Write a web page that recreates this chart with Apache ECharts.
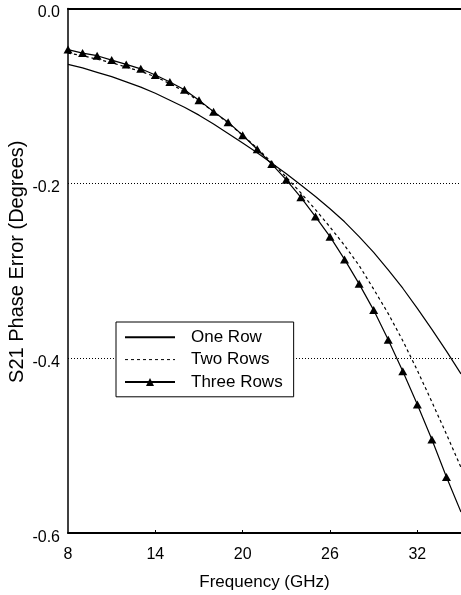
<!DOCTYPE html>
<html>
<head>
<meta charset="utf-8">
<script src="https://cdn.jsdelivr.net/npm/echarts@6/dist/echarts.min.js"></script>
<style>
  html, body { margin: 0; padding: 0; background: #fff; }
  #chart { width: 461px; height: 595px; }
</style>
</head>
<body>
<div id="chart"></div>
<script>
// Frequency sweep (GHz)
const frequencies = [8, 9, 10, 11, 12, 13, 14, 15, 16, 17, 18, 19, 20, 21,
                     22, 23, 24, 25, 26, 27, 28, 29, 30, 31, 32, 33, 34, 35];

// S21 phase error (degrees) for each configuration
const oneRow = [-0.064, -0.068, -0.073, -0.078, -0.084, -0.090, -0.097, -0.105,
                -0.113, -0.122, -0.132, -0.143, -0.154, -0.165, -0.177, -0.189,
                -0.202, -0.215, -0.229, -0.244, -0.261, -0.279, -0.299, -0.320,
                -0.343, -0.367, -0.392, -0.418];
const twoRows = [-0.051, -0.054, -0.058, -0.062, -0.067, -0.072, -0.078, -0.086,
                 -0.095, -0.106, -0.118, -0.131, -0.145, -0.160, -0.176, -0.193,
                 -0.211, -0.230, -0.250, -0.271, -0.294, -0.321, -0.349, -0.380,
                 -0.414, -0.450, -0.487, -0.525];
const threeRows = [-0.047, -0.051, -0.054, -0.059, -0.064, -0.069, -0.076, -0.084,
                   -0.093, -0.105, -0.118, -0.130, -0.145, -0.161, -0.178, -0.196,
                   -0.216, -0.238, -0.261, -0.287, -0.315, -0.345, -0.379, -0.415,
                   -0.453, -0.493, -0.536, -0.576];

// Axis ticks
const xTickValues = [8, 14, 20, 26, 32];
const yTickValues = [0, -0.2, -0.4, -0.6];

const seriesNames = ['One Row', 'Two Rows', 'Three Rows'];

const FONT = '"Liberation Sans", Arial, Helvetica, sans-serif';

function pairs(values) {
  return frequencies.map((f, i) => [f, values[i]]);
}

// Markers on every sample except the last one, where the trace runs off the frame
function markedPairs(values) {
  return frequencies.map((f, i) =>
    i === frequencies.length - 1 ? { value: [f, values[i]], symbol: 'none' } : [f, values[i]]);
}

const chart = echarts.init(document.getElementById('chart'), null, { renderer: 'canvas' });

chart.setOption({
  animation: false,
  backgroundColor: '#fff',
  textStyle: { fontFamily: FONT, color: '#000' },
  grid: { left: 68, right: 0, top: 8.5, bottom: 62, containLabel: false, outerBoundsMode: 'none' },
  legend: {
    orient: 'vertical',
    left: 116,
    top: 322,
    padding: [6.7, 11, 6.3, 8],
    itemWidth: 50,
    itemHeight: 10,
    itemGap: 5.4,
    backgroundColor: '#fff',
    borderColor: '#000',
    borderWidth: 1,
    borderRadius: 0,
    textStyle: { fontFamily: FONT, fontSize: 17, color: '#000', padding: [0, 0, 0, 11] },
    data: [
      { name: seriesNames[0], lineStyle: { width: 2, color: '#000', type: 'solid' }, itemStyle: { opacity: 0 } },
      { name: seriesNames[1], lineStyle: { width: 1, color: '#000', type: [3, 3] }, itemStyle: { opacity: 0 } },
      { name: seriesNames[2], lineStyle: { width: 2, color: '#000', type: 'solid' }, itemStyle: { color: '#000' } }
    ]
  },
  xAxis: [
    {
      type: 'value',
      min: 8,
      max: 35,
      interval: 6,
      name: 'Frequency (GHz)',
      nameLocation: 'middle',
      nameGap: 41,
      nameTextStyle: { fontFamily: FONT, fontSize: 17, color: '#000' },
      axisLine: { show: true, onZero: false, lineStyle: { color: '#000', width: 2 } },
      axisTick: { show: true, inside: true, length: 3, customValues: xTickValues.slice(1),
                  lineStyle: { color: '#000', width: 1 } },
      axisLabel: { show: true, customValues: xTickValues, margin: 14,
                   fontFamily: FONT, fontSize: 16, color: '#000' },
      splitLine: { show: false }
    },
    {
      type: 'value',
      position: 'top',
      min: 8,
      max: 35,
      axisLine: { show: true, onZero: false, lineStyle: { color: '#000', width: 2 } },
      axisTick: { show: false },
      axisLabel: { show: false },
      splitLine: { show: false }
    }
  ],
  yAxis: {
    type: 'value',
    min: -0.6,
    max: 0,
    interval: 0.2,
    name: 'S21 Phase Error (Degrees)',
    nameLocation: 'middle',
    nameRotate: 90,
    nameGap: 41,
    nameMoveOverlap: false,
    nameTextStyle: { fontFamily: FONT, fontSize: 20, color: '#000', padding: [0, 0, 0, 18] },
    axisLine: { show: true, onZero: false, lineStyle: { color: '#000', width: 1.5 } },
    axisTick: { show: false },
    axisLabel: {
      customValues: yTickValues,
      margin: 8,
      color: '#000',
      formatter: v => '{t|' + (Math.abs(v) < 1e-9 ? '0.0' : v.toFixed(1)) + '}',
      rich: {
        t: { fontFamily: FONT, fontSize: 16, color: '#000', padding: [9, 0, 0, 0] }
      }
    },
    splitLine: { show: true, lineStyle: { color: '#000', width: 1, type: [1, 2] } }
  },
  series: [
    {
      name: seriesNames[0],
      type: 'line',
      data: pairs(oneRow),
      symbol: 'none',
      lineStyle: { color: '#000', width: 1.2, type: 'solid' },
      itemStyle: { color: '#000' },
      z: 3
    },
    {
      name: seriesNames[1],
      type: 'line',
      data: pairs(twoRows),
      symbol: 'none',
      lineStyle: { color: '#000', width: 1.2, type: [3, 3] },
      itemStyle: { color: '#000' },
      z: 3
    },
    {
      name: seriesNames[2],
      type: 'line',
      data: markedPairs(threeRows),
      symbol: 'triangle',
      symbolSize: [9, 8],
      showAllSymbol: true,
      lineStyle: { color: '#000', width: 1.2, type: 'solid' },
      itemStyle: { color: '#000' },
      z: 4
    }
  ]
});
</script>
</body>
</html>
